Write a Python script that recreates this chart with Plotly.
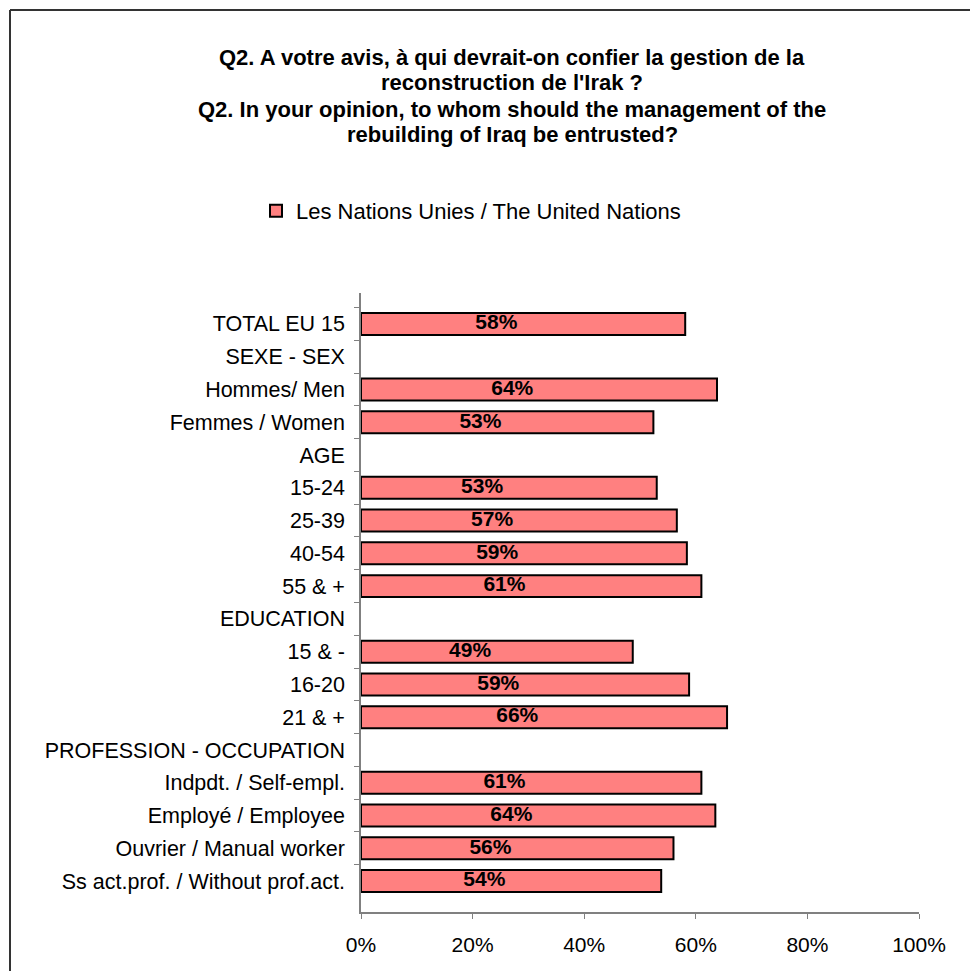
import plotly.graph_objects as go

categories = [
    "TOTAL EU 15", "SEXE - SEX", "Hommes/ Men", "Femmes / Women", "AGE",
    "15-24", "25-39", "40-54", "55 & +", "EDUCATION", "15 & -", "16-20", "21 & +",
    "PROFESSION - OCCUPATION", "Indpdt. / Self-empl.", "Employé / Employee",
    "Ouvrier / Manual worker", "Ss act.prof. / Without prof.act.",
]
values = [58.1, None, 63.8, 52.4, None, 53.0, 56.6, 58.4, 61.0, None,
          48.7, 58.8, 65.6, None, 61.0, 63.5, 56.0, 53.8]
labels = ["58%", "", "64%", "53%", "", "53%", "57%", "59%", "61%", "",
          "49%", "59%", "66%", "", "61%", "64%", "56%", "54%"]
series_name = "Les Nations Unies / The United Nations"
title_lines = [
    "Q2. A votre avis, à qui devrait-on confier la gestion de la",
    "reconstruction de l'Irak ?",
    "Q2. In your opinion, to whom should the management of the",
    "rebuilding of Iraq be entrusted?",
]
x_ticks = [0, 20, 40, 60, 80, 100]
x_tick_labels = ["0%", "20%", "40%", "60%", "80%", "100%"]

OFF = 8  # page body margin offset
W, H = 978 - OFF, 971 - OFF
# target plot area in screenshot pixels
PX0, PX1, PY0, PY1 = 361, 919, 293, 912
L = PX0 - OFF
T = PY0 - OFF
R = W - (PX1 - OFF)
B = H - (PY1 - OFF)
FONT = "Arial, Liberation Sans, sans-serif"

fig = go.Figure()
fig.add_trace(go.Bar(
    y=categories, x=values, orientation="h", name=series_name,
    marker=dict(color="#FF8080", line=dict(color="black", width=2)),
    hoverinfo="skip",
))
# value labels (slightly left of the bar centre, as in the reference)
lab_x = [None if v is None else v / 2 - 4.8 for v in values]
fig.add_trace(go.Scatter(
    y=categories, x=lab_x, mode="text", text=labels, showlegend=False,
    textposition="middle center",
    textfont=dict(family=FONT, size=21, color="black", weight="bold"),
    hoverinfo="skip",
))

def px_x(p):
    return (p - PX0) / (PX1 - PX0)
def px_y(p):
    return (PY1 - p) / (PY1 - PY0)

# title as separate lines
for i, line in enumerate(title_lines):
    fig.add_annotation(
        text="<b>" + line + "</b>", xref="paper", yref="paper",
        x=px_x(512), y=px_y(57 + 26 * i), xanchor="center", yanchor="middle",
        showarrow=False, font=dict(family=FONT, size=22, color="black"),
    )

# outer frame (top and left edges visible)
fig.add_shape(type="line", xref="paper", yref="paper",
              x0=px_x(10), x1=px_x(10), y0=px_y(10), y1=px_y(1000),
              line=dict(color="#333333", width=2))
fig.add_shape(type="line", xref="paper", yref="paper",
              x0=px_x(10), x1=px_x(1000), y0=px_y(10), y1=px_y(10),
              line=dict(color="#333333", width=2))

fig.update_layout(
    width=W, height=H,
    margin=dict(l=L, r=R, t=T, b=B),
    paper_bgcolor="white", plot_bgcolor="white",
    font=dict(family=FONT, size=21, color="black"),
    bargap=0.33,
    showlegend=True,
    legend=dict(
        orientation="h", xref="container", yref="container",
        x=(256 - OFF) / W, y=1 - (211 - OFF) / H, xanchor="left", yanchor="middle",
        font=dict(family=FONT, size=22, color="black"),
        itemwidth=30, bgcolor="rgba(0,0,0,0)",
    ),
    xaxis=dict(
        range=[0, 100], tickvals=x_ticks, ticktext=x_tick_labels,
        showgrid=False, zeroline=False, showline=True,
        linecolor="#808080", linewidth=1.5,
        ticks="outside", ticklen=5, tickcolor="#808080",
        ticklabelstandoff=8,
        tickfont=dict(family=FONT, size=21),
        fixedrange=True,
    ),
    yaxis=dict(
        autorange="reversed", type="category",
        showgrid=False, zeroline=False, showline=True,
        linecolor="#808080", linewidth=1.5,
        ticks="outside", ticklen=5, tickcolor="#808080",
        tickson="boundaries",
        tickfont=dict(family=FONT, size=21.5),
        ticklabelstandoff=10,
        fixedrange=True,
    ),
)

fig.write_html("out.html")
